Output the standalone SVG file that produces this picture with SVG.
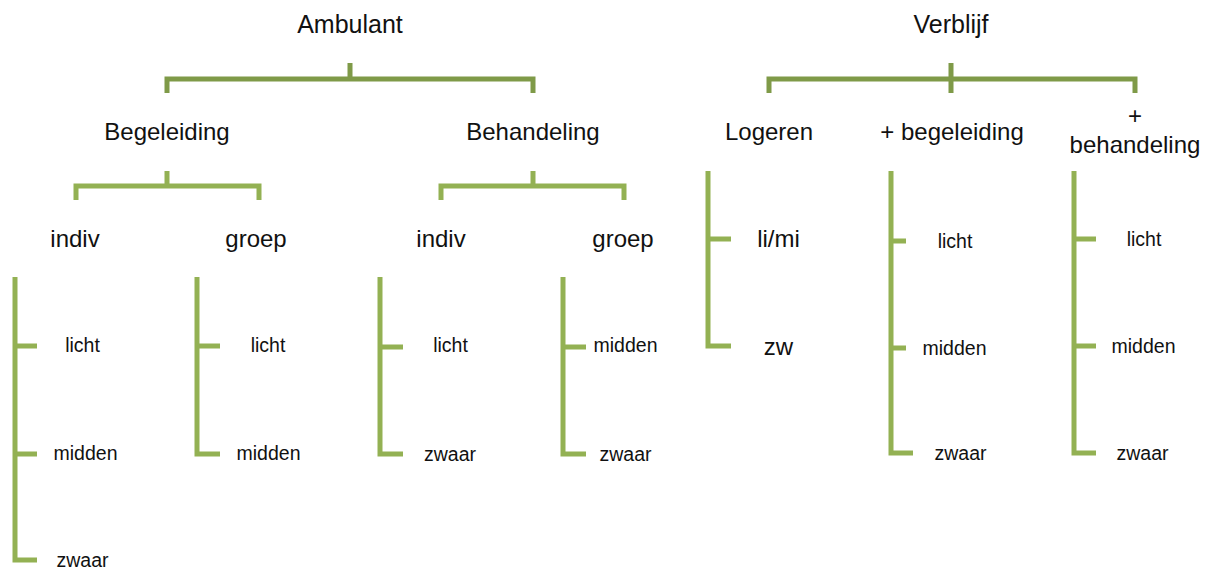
<svg xmlns="http://www.w3.org/2000/svg" width="1211" height="570" viewBox="0 0 1211 570">
<style>
text{font-family:"Liberation Sans",Arial,sans-serif;fill:#111;text-anchor:middle}
.t1{font-size:25px}
.t2{font-size:24px}
.t3{font-size:19.5px}
.b1{fill:none;stroke:#7F9A48;stroke-width:5;stroke-linejoin:miter;stroke-linecap:butt}
.b2{fill:none;stroke:#93B153;stroke-width:5;stroke-linejoin:miter;stroke-linecap:butt}
</style>
<rect width="1211" height="570" fill="#fff"/>
<g id="connectors">
<path class="b1" d="M167 93V79H533V93M350 63V79"/>
<path class="b1" d="M769 93V79H1135V93M951 63V93"/>
<path class="b2" d="M76 200V186H259V200M167 171V186"/>
<path class="b2" d="M441 200V186H624V200M533 171V186"/>
<path class="b2" d="M15 277V560H37M15 346H37M15 454H37"/>
<path class="b2" d="M197 277V454H220M197 346H220"/>
<path class="b2" d="M380 277V454H403M380 347H403"/>
<path class="b2" d="M563 277V454H586M563 347H586"/>
<path class="b2" d="M708 171V346H731M708 239H731"/>
<path class="b2" d="M891 171V453H913M891 241H906M891 348H906"/>
<path class="b2" d="M1074 171V453H1096M1074 239H1096M1074 346H1096"/>
</g>
<g id="ambulant"><text class="t1" x="350" y="33">Ambulant</text></g>
<g id="verblijf"><text class="t1" x="951" y="33">Verblijf</text></g>
<g id="begeleiding"><text class="t2" x="167" y="140">Begeleiding</text></g>
<g id="behandeling"><text class="t2" x="533" y="140">Behandeling</text></g>
<g id="logeren"><text class="t2" x="769" y="140">Logeren</text></g>
<g id="plus-begeleiding"><text class="t2" x="952" y="140">+ begeleiding</text></g>
<g id="plus-behandeling"><text class="t2" x="1135" y="124">+</text><text class="t2" x="1135" y="153">behandeling</text></g>
<g id="beg-indiv"><text class="t2" x="75" y="247">indiv</text></g>
<g id="beg-groep"><text class="t2" x="256" y="247">groep</text></g>
<g id="beh-indiv"><text class="t2" x="441" y="247">indiv</text></g>
<g id="beh-groep"><text class="t2" x="623" y="247">groep</text></g>
<g id="beg-indiv-licht"><text class="t3" x="82.5" y="352">licht</text></g>
<g id="beg-indiv-midden"><text class="t3" x="85.5" y="460">midden</text></g>
<g id="beg-indiv-zwaar"><text class="t3" x="82.5" y="567">zwaar</text></g>
<g id="beg-groep-licht"><text class="t3" x="268" y="352">licht</text></g>
<g id="beg-groep-midden"><text class="t3" x="268.5" y="460">midden</text></g>
<g id="beh-indiv-licht"><text class="t3" x="450.5" y="352">licht</text></g>
<g id="beh-indiv-zwaar"><text class="t3" x="450" y="461">zwaar</text></g>
<g id="beh-groep-midden"><text class="t3" x="625.5" y="352">midden</text></g>
<g id="beh-groep-zwaar"><text class="t3" x="625.5" y="461">zwaar</text></g>
<g id="log-limi"><text class="t2" x="778.5" y="247">li/mi</text></g>
<g id="log-zw"><text class="t2" x="778.5" y="355">zw</text></g>
<g id="pbeg-licht"><text class="t3" x="955" y="248">licht</text></g>
<g id="pbeg-midden"><text class="t3" x="954.5" y="355">midden</text></g>
<g id="pbeg-zwaar"><text class="t3" x="960.5" y="460">zwaar</text></g>
<g id="pbeh-licht"><text class="t3" x="1144" y="246">licht</text></g>
<g id="pbeh-midden"><text class="t3" x="1143.5" y="353">midden</text></g>
<g id="pbeh-zwaar"><text class="t3" x="1142.5" y="460">zwaar</text></g>
</svg>
